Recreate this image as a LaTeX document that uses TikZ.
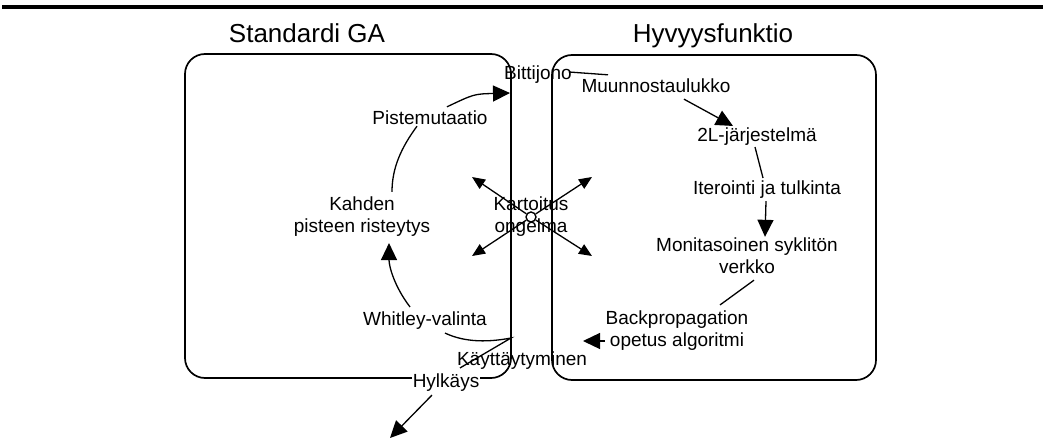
\documentclass[tikz,border=0pt]{standalone}
\usepackage{fontspec}
\setmainfont{Liberation Sans}
\usetikzlibrary{arrows.meta,positioning,calc}

\begin{document}
\begin{tikzpicture}[x=1pt, y=-1pt,
    lbl/.style={font=\fontsize{19}{22}\selectfont, align=center, inner sep=1pt},
    ttl/.style={font=\fontsize{26}{30}\selectfont, anchor=base, inner sep=0pt},
    panel/.style={draw, line width=1.7pt, rounded corners=20pt},
    link/.style={line width=1.3pt},
    arrow/.style={link, -{Triangle[length=17pt, width=16pt]}},
    smallarrow/.style={link, -{Triangle[length=13pt, width=11pt]}}
]
\useasboundingbox (0,0) rectangle (1043,444);

% Top rule
\draw[line width=4.5pt] (2,7) -- (1043,7);

% Panels
\draw[panel] (185,54) rectangle (511,378);
\draw[panel] (552,55) rectangle (876,380);

% Titles
\node[ttl] (stdga) at (307,43) {Standardi GA};
\node[ttl] (fitness) at (713,43) {Hyvyysfunktio};

% GA loop
\node[lbl] (piste) at (430,118) {Pistemutaatio};
\node[lbl] (kahd) at (362,217) {Kahden\\pisteen risteytys};
\node[lbl] (whit) at (425,321) {Whitley-valinta};
\node[lbl] (kaytt) at (522,361) {Käyttäytyminen};
\node[lbl, fill=white] (hylk) at (446,383) {Hylkäys};

% Fitness chain
\node[lbl] (bitti) at (538,75) {Bittijono};
\node[lbl] (muun) at (656,86) {Muunnostaulukko};
\node[lbl] (l2) at (757,137) {2L-järjestelmä};
\node[lbl] (iter) at (767,190) {Iterointi ja tulkinta};
\node[lbl] (moni) at (747,256) {Monitasoinen syklitön\\verkko};
\node[lbl] (back) at (677,331) {Backpropagation\\opetus algoritmi};

% Mapping problem in the middle
\node[lbl] (kart) at (531,217) {Kartoitus\\ongelma};
\node[circle, draw, line width=1.4pt, fill=white, minimum size=10pt, inner sep=0pt] (hub) at (531,217) {};

% Free ends
\coordinate (bin) at (510,93);
\coordinate (wk) at (511,338);
\coordinate (bktip) at (583,341);
\coordinate (rejtip) at (390,438);
\coordinate (mapnw) at (472,177);
\coordinate (mapne) at (592,177);
\coordinate (mapsw) at (472,256);
\coordinate (mapse) at (592,256);

% Connectors
\draw[arrow] ([xshift=17pt,yshift=3pt]piste.north) .. controls (474,94) .. (bin);
\draw[link] ([xshift=-4pt,yshift=3pt]bitti.east) -- ([xshift=-48pt,yshift=3pt]muun.north);
\draw[arrow] ([xshift=28pt,yshift=-5pt]muun.south) -- ([xshift=-24pt,yshift=1pt]l2.north);
\draw[link] ([xshift=-2pt]l2.south) -- ([xshift=-4pt,yshift=2pt]iter.north);
\draw[arrow] ([xshift=-1pt,yshift=-1pt]iter.south) -- ([xshift=18pt]moni.north);
\draw[link] ([xshift=7pt,yshift=-5pt]moni.south) -- ([xshift=43pt,yshift=5pt]back.north);
\draw[arrow] ([yshift=-10pt]back.west) -- (bktip);
\draw[link] ([xshift=20pt,yshift=-2pt]whit.south) .. controls (466,343) and (490,342) .. (wk)
    -- ([xshift=14pt,yshift=5pt]hylk.north);
\draw[arrow] ([xshift=-14pt,yshift=-2pt]hylk.south) -- (rejtip);
\draw[arrow] ([xshift=-15pt,yshift=4pt]whit.north) .. controls (394,286) and (389,266) .. ([xshift=27pt,yshift=-5pt]kahd.south);
\draw[link] ([xshift=30pt,yshift=4pt]kahd.north) .. controls (392,168) and (401,148) .. ([xshift=-13pt]piste.south);

% Mapping arrows
\draw[smallarrow] (hub) -- (mapnw);
\draw[smallarrow] (hub) -- (mapne);
\draw[smallarrow] (hub) -- (mapsw);
\draw[smallarrow] (hub) -- (mapse);

\end{tikzpicture}
\end{document}
